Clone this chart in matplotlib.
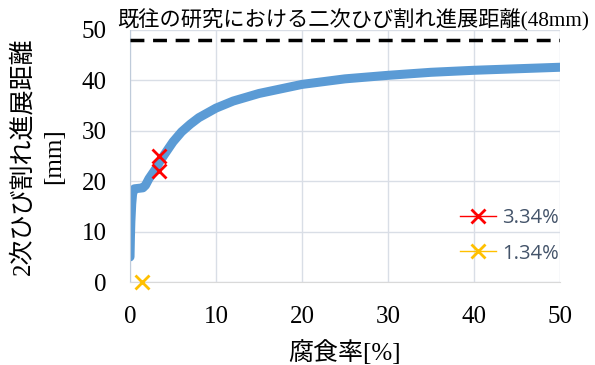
import matplotlib.pyplot as plt
from matplotlib.lines import Line2D

# D A T A ###############################################################
curve_x = [0.0, 0.05, 0.1, 0.2, 0.3, 0.5, 1.0, 1.5, 1.8, 2.2, 2.6, 3.0, 3.5,
           4.0, 5.0, 6.0, 7.0, 8.0, 10.0, 12.0, 15.0, 20.0, 25.0, 30.0, 35.0,
           40.0, 45.0, 50.0]
curve_y = [5.0, 9.0, 12.0, 15.5, 17.5, 18.5, 18.6, 18.7, 19.2, 20.5, 21.5, 22.5, 24.0,
           25.3, 27.8, 29.8, 31.3, 32.6, 34.5, 35.9, 37.4, 39.2, 40.3, 41.0, 41.6,
           42.0, 42.3, 42.6]
pts_334_x = [3.34, 3.34]
pts_334_y = [25.0, 22.0]
pts_134_x = [1.34]
pts_134_y = [0.0]
ref_dist = 48
ref_label = "既往の研究における二次ひび割れ進展距離(48mm)"
legend_labels = ["3.34%", "1.34%"]

plt.rcParams['font.family'] = ['Liberation Serif', 'Noto Sans CJK JP']

fig, ax = plt.subplots(figsize=(5.95, 3.65), dpi=100)
fig.subplots_adjust(left=0.2185, right=0.941, top=0.918, bottom=0.227)

ax.grid(True, color='#D9DEE6', linewidth=1)
ax.set_axisbelow(True)
for s in ['top', 'right']:
    ax.spines[s].set_visible(False)
ax.spines['left'].set_color('#BFCBDA')
ax.spines['bottom'].set_color('#D9D9D9')

ax.plot(curve_x, curve_y, color='#5B9BD5', linewidth=6.5, solid_capstyle='round', zorder=2)
ax.plot([0, 50], [ref_dist, ref_dist], color='black', linestyle=(0, (4, 2.5)), linewidth=2.5, zorder=3)
ax.plot(pts_334_x, pts_334_y, linestyle='none', marker='x', color='#FF0000',
        markersize=10, markeredgewidth=2, zorder=4)
ax.plot(pts_134_x, pts_134_y, linestyle='none', marker='x', color='#FFC000',
        markersize=10, markeredgewidth=2, zorder=4, clip_on=False)

ax.text(-1.45, 49.6, ref_label, fontsize=15.3, va='bottom', ha='left')

ax.set_xlim(0, 50)
ax.set_ylim(0, 50)
ax.set_xticks(range(0, 51, 10))
ax.set_yticks(range(0, 51, 10))
ax.tick_params(length=0, labelsize=18)
ax.tick_params(axis='x', pad=17)
ax.tick_params(axis='y', pad=17)
ax.set_xlabel("腐食率[%]", fontsize=18, labelpad=9)
ax.set_ylabel("2次ひび割れ進展距離\n[mm]", fontsize=18, labelpad=12, linespacing=1.5)

handles = [
    Line2D([], [], color='#FF0000', marker='x', markersize=10, markeredgewidth=2, linewidth=1),
    Line2D([], [], color='#FFC000', marker='x', markersize=10, markeredgewidth=2, linewidth=1),
]
leg = ax.legend(handles, legend_labels, loc='center left', bbox_to_anchor=(0.767, 0.183),
                frameon=False, prop={'family': 'Open Sans', 'size': 14.5}, handlelength=1.8,
                labelspacing=0.75, handletextpad=0.3, borderpad=0, borderaxespad=0)
for t in leg.get_texts():
    t.set_color('#44546A')

fig.savefig("out.png", dpi=100)
